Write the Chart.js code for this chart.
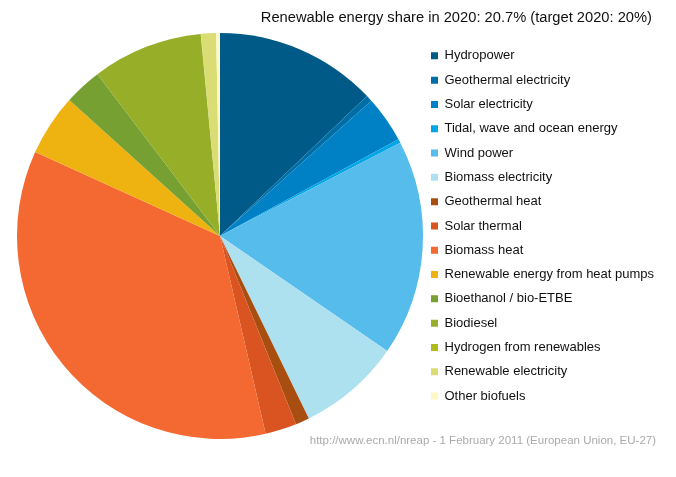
<!DOCTYPE html>
<html>
<head>
<meta charset="utf-8">
<title>Renewable energy share in 2020</title>
<script src="https://cdn.jsdelivr.net/npm/chart.js@4"></script>
<style>
  html, body { margin: 0; padding: 0; background: #ffffff; }
  canvas { display: block; }
</style>
</head>
<body>
<canvas id="graficoPie" width="676" height="477"></canvas>
<script>
// --- data (share of total, %) ---
const categories = [
  'Hydropower', 'Geothermal electricity', 'Solar electricity',
  'Tidal, wave and ocean energy', 'Wind power', 'Biomass electricity',
  'Geothermal heat', 'Solar thermal', 'Biomass heat',
  'Renewable energy from heat pumps', 'Bioethanol / bio-ETBE', 'Biodiesel',
  'Hydrogen from renewables', 'Renewable electricity', 'Other biofuels'
];
const shares = [12.9, 0.5, 3.7, 0.3, 17.2, 8.2, 1.1, 2.5, 35.4, 4.9, 3.0, 8.8, 0.02, 1.2, 0.3];
const colors = [
  '#005a87', '#006ea6', '#0080c5', '#00a6e5', '#55bcec', '#aee1f0',
  '#a84e10', '#da5421', '#f46832', '#efb311', '#76a032', '#97ae29',
  '#afbb1e', '#d9dd74', '#fdf8c5'
];
// trailing space: the title ends a few px before the source line
const titleText = 'Renewable energy share in 2020: 20.7% (target 2020: 20%) ';
const sourceText = 'http://www.ecn.nl/nreap - 1 February 2011 (European Union, EU-27)';

new Chart(document.getElementById('graficoPie'), {
  type: 'pie',
  data: {
    labels: categories,
    datasets: [{
      data: shares,
      backgroundColor: colors,
      borderWidth: 0,
      radius: 203
    }]
  },
  options: {
    responsive: false,
    animation: false,
    layout: { padding: { left: 20.3, right: 20, top: 9, bottom: 29.3 } },
    plugins: {
      title: {
        display: true,
        text: titleText,
        align: 'end',
        color: '#111111',
        font: { family: '"Liberation Sans"', size: 14.7, weight: 'normal' },
        padding: { top: 0, bottom: 11.4 }
      },
      subtitle: {
        display: true,
        position: 'bottom',
        text: sourceText,
        align: 'end',
        color: '#aaaaaa',
        font: { family: '"Liberation Sans"', size: 11.5, weight: 'normal' },
        padding: 0
      },
      legend: {
        position: 'right',
        align: 'start',
        fullSize: false,
        maxWidth: 236.3,
        labels: {
          boxWidth: 7,
          boxHeight: 7,
          padding: 11.3,
          color: '#111111',
          font: { family: '"Liberation Sans"', size: 13 }
        }
      },
      tooltip: { enabled: false }
    }
  }
});
</script>
</body>
</html>
